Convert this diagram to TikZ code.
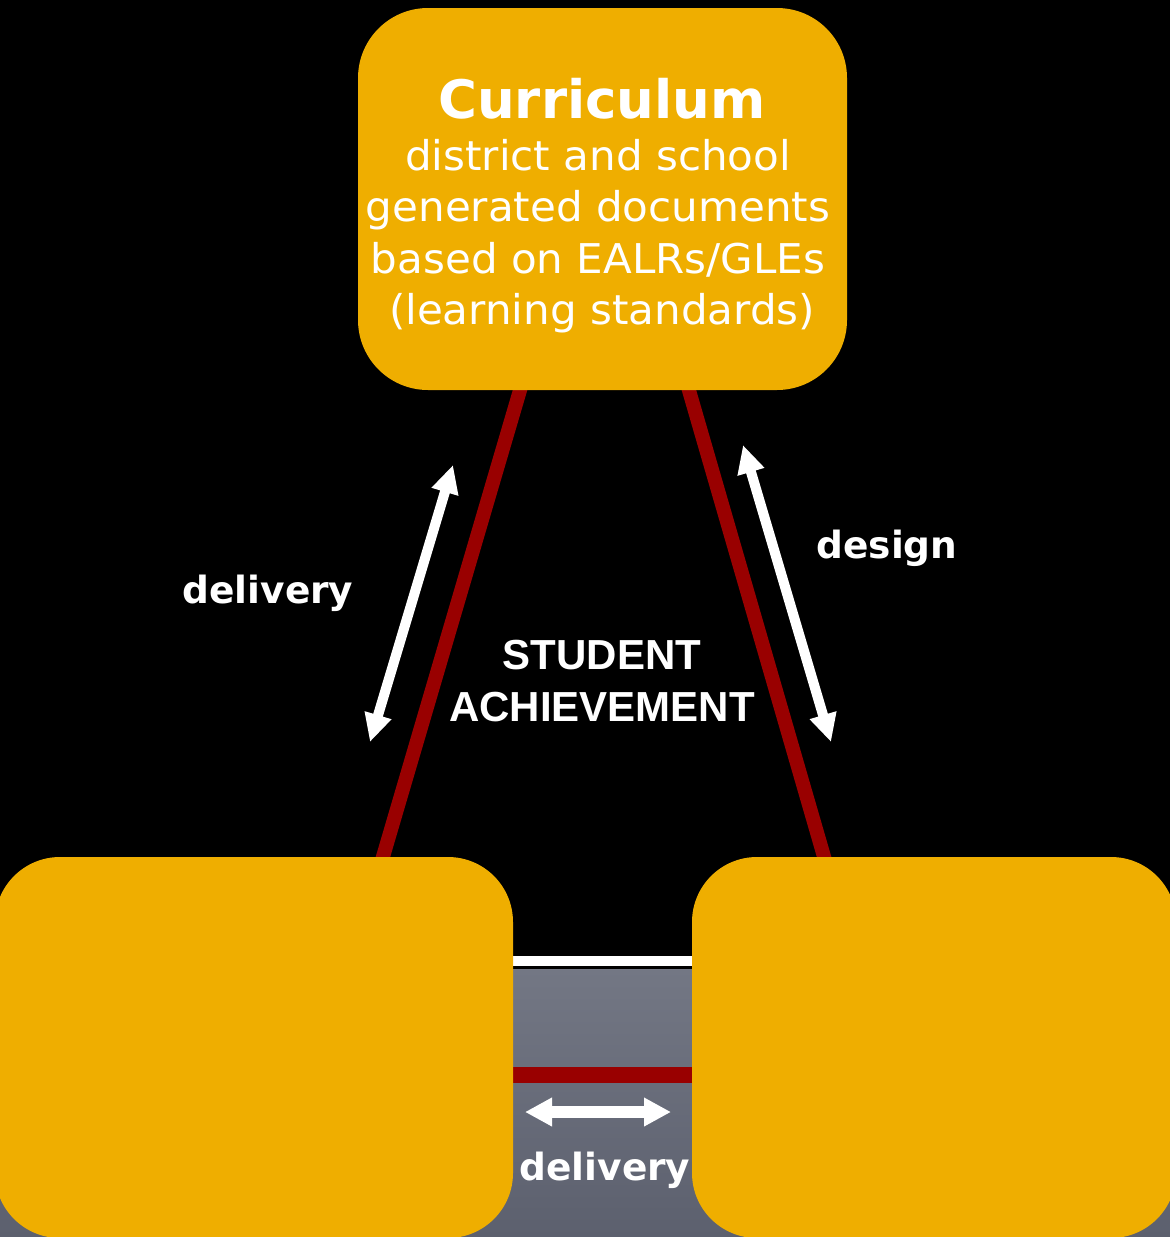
\documentclass[tikz,border=0pt]{standalone}
\usepackage{fontspec}
\setmainfont{DejaVu Sans}
\newfontfamily\widefont[FakeStretch=1.025]{DejaVu Sans}
\newfontfamily\arialfont{Liberation Sans}
\usetikzlibrary{arrows.meta}
\definecolor{boxorange}{RGB}{239,174,0}
\definecolor{barred}{RGB}{153,0,0}
\definecolor{graytop}{RGB}{115,119,132}
\definecolor{graybot}{RGB}{92,96,110}
\tikzset{
  block/.style={rectangle, rounded corners=65pt, fill=boxorange, inner sep=0pt},
  redbar/.style={barred, line width=14pt},
  twoway/.style={white, line width=10pt, {Triangle[length=28pt,width=26pt]}-{Triangle[length=28pt,width=26pt]}},
  lbl/.style={white, inner sep=0pt, anchor=base, font=\bfseries\fontsize{37.5}{44}\selectfont}
}
\begin{document}
\begin{tikzpicture}[x=1pt,y=-1pt]
\fill[black] (0,0) rectangle (1170,1237);
\useasboundingbox (0,0) rectangle (1170,1237);
\shade[top color=graytop, bottom color=graybot] (0,969) rectangle (1170,1237);
\coordinate (wl1) at (505,961);
\coordinate (wl2) at (700,961);
\draw[white, line width=10pt] (wl1) -- (wl2);
\coordinate (rl1) at (505,1075);
\coordinate (rl2) at (700,1075);
\draw[barred, line width=16pt] (rl1) -- (rl2);
\coordinate (ct1) at (523,380);
\coordinate (lb1) at (380,867);
\coordinate (ct2) at (686,380);
\coordinate (rb1) at (827,867);
\draw[redbar] (ct1) -- (lb1);
\draw[redbar] (ct2) -- (rb1);
\node[block, rounded corners=70pt, minimum width=489pt, minimum height=382pt] (curric) at (602.5,199){};
\node[block, minimum width=518pt, minimum height=381pt] (lbox) at (254,1047.5){};
\node[block, minimum width=484pt, minimum height=381pt] (rbox) at (934,1047.5){};
\node[white, inner sep=0pt, align=center, font=\widefont\fontsize{41}{51.5}\selectfont] (curtext) at (598,206){{\normalfont\fontsize{53}{60}\selectfont\bfseries\hspace{8pt}Curriculum}\\district and school\\generated documents\\based on EALRs/GLEs\\ \hspace{8pt}(learning standards)};
\coordinate (dl1) at (453,465);
\coordinate (dl2) at (370,742);
\draw[twoway] (dl2) -- (dl1);
\coordinate (dr1) at (743,445);
\coordinate (dr2) at (831,742);
\draw[twoway] (dr2) -- (dr1);
\coordinate (db1) at (525,1112);
\coordinate (db2) at (671,1112);
\draw[white, line width=12pt, {Triangle[length=27pt,width=27pt]}-{Triangle[length=27pt,width=27pt]}] (db1) -- (db2);
\node[lbl] (delivl) at (268,603){delivery};
\node[lbl] (design) at (887,558){design};
\node[lbl] (delivb) at (605,1180){delivery};
\node[white, inner sep=0pt, align=center, font=\arialfont\bfseries\fontsize{42}{52}\selectfont] (achieve) at (602,681.5){STUDENT\\ACHIEVEMENT};
\end{tikzpicture}
\end{document}
